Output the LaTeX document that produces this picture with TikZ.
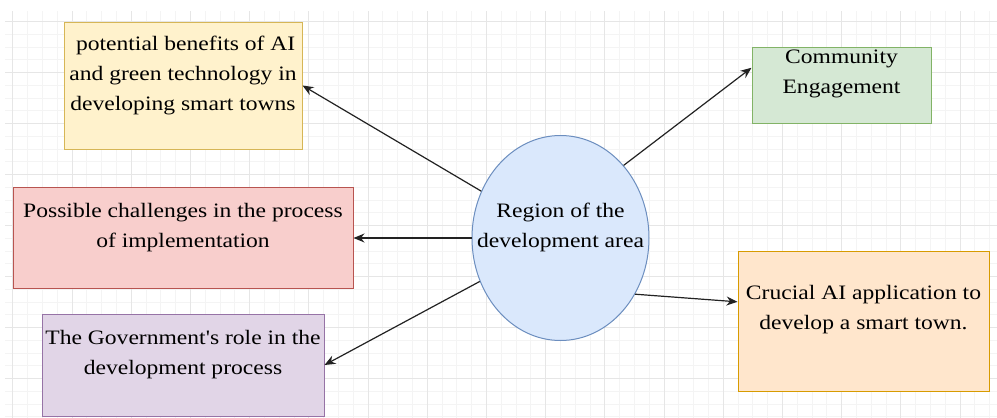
\documentclass[tikz,border=0pt]{standalone}
\usepackage{fontspec}
\setmainfont{Liberation Serif}
\newfontfamily\dfont[FakeStretch=1.15]{Liberation Serif}
\usetikzlibrary{arrows.meta,shapes.geometric,calc}
\definecolor{gmajor}{HTML}{E6E6E6}
\definecolor{gminor}{HTML}{F4F4F4}
\definecolor{yfill}{HTML}{FFF2CC}\definecolor{ydraw}{HTML}{D6B656}
\definecolor{rfill}{HTML}{F8CECC}\definecolor{rdraw}{HTML}{B85450}
\definecolor{pfill}{HTML}{E1D5E7}\definecolor{pdraw}{HTML}{9673A6}
\definecolor{gfill}{HTML}{D5E8D4}\definecolor{gdraw}{HTML}{82B366}
\definecolor{ofill}{HTML}{FFE6CC}\definecolor{odraw}{HTML}{D79B00}
\definecolor{bfill}{HTML}{DAE8FC}\definecolor{bdraw}{HTML}{6C8EBF}
\definecolor{arr}{HTML}{222222}
\tikzset{
  boxshape/.style={draw, line width=1pt, rectangle, inner sep=0pt},
  txt/.style={font=\dfont\fontsize{20.5}{30}\selectfont, align=center, inner sep=0pt, text=black},
  conn/.style={draw=arr, line width=1.2pt, -{Stealth[length=11pt,width=9pt]}},
}
\begin{document}
\begin{tikzpicture}[x=1pt,y=-1pt]
\useasboundingbox (0,0) rectangle (997,418);
\fill[white] (0,0) rectangle (997,418);
% grid
\begin{scope}
\clip (5,11) rectangle (997,418);
\foreach \i in {0,...,67} {\draw[gminor, line width=0.8pt] ({12.8+14.8*\i},11) -- ({12.8+14.8*\i},418);}
\foreach \j in {0,...,32} {\draw[gminor, line width=0.8pt] (5,{21.5+12.75*\j}) -- (997,{21.5+12.75*\j});}
\foreach \i in {0,...,16} {\draw[gmajor, line width=1pt] ({12.8+59.2*\i},11) -- ({12.8+59.2*\i},418);}
\foreach \j in {0,...,7} {\draw[gmajor, line width=1pt] (5,{21.5+51*\j}) -- (997,{21.5+51*\j});}
\end{scope}
% boxes
\node[boxshape, fill=yfill, draw=ydraw, minimum width=238pt, minimum height=127pt] (yb) at (183,85.5) {};
\node[boxshape, fill=rfill, draw=rdraw, minimum width=340pt, minimum height=101pt] (rb) at (183,238) {};
\node[boxshape, fill=pfill, draw=pdraw, minimum width=282pt, minimum height=102pt] (pb) at (183,365) {};
\node[boxshape, fill=gfill, draw=gdraw, minimum width=179pt, minimum height=76pt] (gb) at (841.5,85) {};
\node[boxshape, fill=ofill, draw=odraw, minimum width=251pt, minimum height=140pt] (ob) at (863.5,321) {};
\node[ellipse, draw=bdraw, fill=bfill, line width=1pt, minimum width=177pt, minimum height=205pt, inner sep=0pt] (e) at (560.5,238) {};
% texts
\node[txt] (yt) at (183,75) {\hspace*{0.26em}potential benefits of AI\\and green technology in\\developing smart towns};
\node[txt] (rt) at (183,228) {Possible challenges in the process\\of implementation};
\node[txt] (pt) at (183,355) {The Government's role in the\\development process};
\node[txt] (gt) at (841.5,74) {Community\\Engagement};
\node[txt] (ot) at (863.5,310) {Crucial AI application to\\develop a smart town.};
\node[txt] (et) at (560.5,227.5) {Region of the\\development area};
% connectors
\draw[conn] (e) -- (yb.east);
\draw[conn] (e) -- (rb.east);
\draw[conn] (e) -- (pb.east);
\draw[conn] (e.49.6) -- ($(gb.north west)!0.276!(gb.south west)$);
\draw[conn] (e.-37) -- ($(ob.north west)!0.364!(ob.south west)$);
\end{tikzpicture}
\end{document}
